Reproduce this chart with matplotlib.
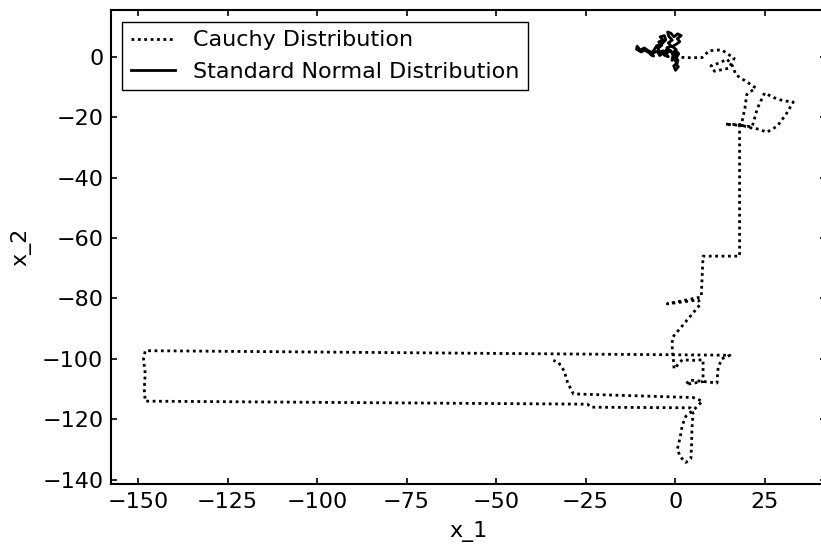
import matplotlib
matplotlib.use("Agg")
import matplotlib.pyplot as plt
import numpy as np

# Cauchy random walk, vertices
cauchy_x = [0, 3.0, 7.5, 9.5, 13.0, 16.5, 15.0, 11.0, 10.0, 12.5, 14.5, 16.0,
            17.0, 20.0, 22.5, 20.0, 19.5, 18.5, 14.0, 19.0, 21.5, 23.0, 25.0,
            27.5, 30.0, 33.0, 31.0, 28.5, 25.6, 23.5, 21.0, 18.0,
            18.0, 7.8, 7.3, -2.2, 6.5, 7.0, -0.8, -0.8, -0.5, -0.3, 2.0, 5.0,
            7.8, 7.8, 3.0, 4.0, 11.7, 12.0, 13.0, 15.3,
            -148.0, -148.5, -148.0, -148.3, -148.0,
            -24.5, -23.5, 4.2, 5.0, 4.7, 4.6, 4.4, 3.0, 1.5, 0.6, 1.4, 2.0,
            3.0, 5.5, 7.6, 5.0, -28.4, -30.0, -31.0, -32.5, -34.0]
cauchy_y = [0, -0.3, -0.3, 2.0, 2.3, -0.5, -3.8, -4.8, -3.0, -2.0, -0.8, -3.0,
            -6.0, -8.3, -10.3, -12.5, -17.0, -22.5, -22.3, -22.8, -23.2, -17.0,
            -12.0, -13.5, -14.5, -15.0, -19.0, -23.0, -25.0, -24.0, -23.5,
            -22.5, -66.0, -66.0, -79.5, -81.8, -80.5, -82.0, -93.0, -97.3,
            -100.0, -103.3, -100.3, -100.5, -100.3, -107.5, -108.5, -107.0,
            -108.0, -103.0, -100.0, -98.8,
            -97.3, -100.0, -105.0, -110.0, -114.0,
            -115.0, -116.0, -116.2, -118.0, -123.0, -128.0, -133.0, -134.3,
            -132.5, -130.0, -126.0, -122.0, -119.0, -116.5, -114.0, -112.8,
            -111.6, -108.0, -104.0, -101.3, -100.5]

# Standard normal random walk
normal_x = [0, 0.8, 0.2, 0.9, 0.1, -0.4, 0.6, -0.2, 0.5, -0.6, 0.3, -0.8, 0.4,
            1.3, 0.6, 1.7, 0.7, -0.3, -1.2, -2.1, -1.8, -0.8, -1.9, -1.1, -2.3,
            -1.5, -2.6, -1.9, -3.0, -3.4, -4.3, -4.8, -3.7, -4.6, -3.4, -4.2,
            -3.0, -2.6, -3.6, -5.2, -5.8, -6.9, -6.0, -7.4, -8.5, -9.5, -10.8,
            -10.6, -9.8, -8.6, -7.5, -6.2, -5.0, -4.3, -3.1, -2.3, -1.2, -0.6,
            -0.9, 0.3, 1.0, 0.2]
normal_y = [0, -1.2, -2.5, -3.3, -4.5, -3.0, -2.2, -1.0, 0.6, 1.4, 2.4, 3.4,
            4.2, 5.0, 6.0, 7.0, 7.6, 6.6, 7.8, 8.2, 6.8, 5.5, 4.6, 3.5, 3.0,
            1.8, 1.2, 0.0, 0.5, 2.0, 1.5, 2.8, 3.8, 4.9, 5.6, 6.6, 7.0, 5.6,
            4.4, 3.6, 2.4, 0.8, 0.2, 1.4, 2.2, 1.6, 2.5, 3.5, 2.2, 2.9, 2.0,
            1.2, 1.8, 0.4, 1.4, 2.5, 2.0, 0.5, -1.2, -0.4, 1.0, 2.0]

plt.rcParams['font.size'] = 16

fig = plt.figure(figsize=(8.21, 5.5), dpi=100)
ax = fig.add_axes([0.1352, 0.12, 0.8706, 0.861])

ax.plot(cauchy_x, cauchy_y, color='k', lw=2, dashes=(1, 1.3),
        label='Cauchy Distribution')
ax.plot(normal_x, normal_y, '-', color='k', lw=2, label='Standard Normal Distribution')

ax.set_xlabel('x_1', labelpad=7)
ax.set_ylabel('x_2', labelpad=8)
ax.tick_params(direction='in', top=True, right=True, length=4.5, width=1.2, pad=5.5)
for s in ax.spines.values():
    s.set_linewidth(1.5)

leg = ax.legend(loc='upper left', fancybox=False, edgecolor='k', framealpha=1)
leg.get_frame().set_linewidth(1.0)

fig.savefig('out.png', dpi=100)
